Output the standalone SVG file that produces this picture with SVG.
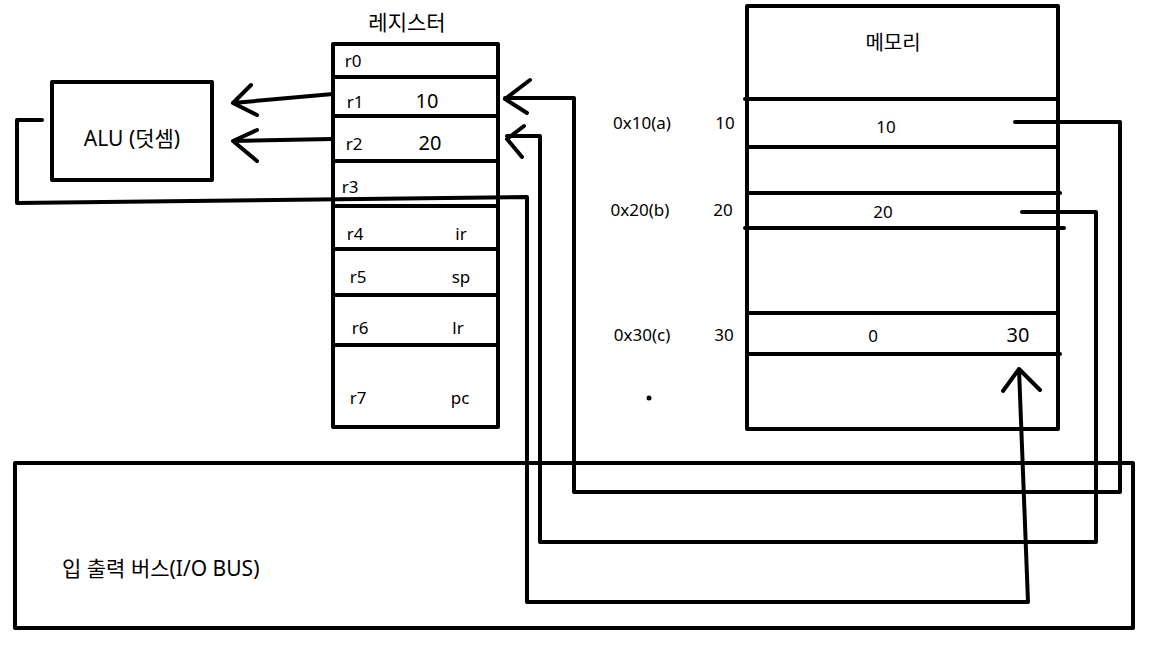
<svg xmlns="http://www.w3.org/2000/svg" width="1151" height="645" viewBox="0 0 1151 645">
<style>
.b{fill:none;stroke:#000;stroke-width:4;stroke-linecap:round;stroke-linejoin:round}
text{font-family:"Noto Sans","Noto Sans CJK KR",sans-serif;fill:#000;text-anchor:middle;dominant-baseline:central}
.s{font-size:17px}
.m{font-size:20px}
</style>
<rect width="1151" height="645" fill="#fff"/>
<g id="bus">
<rect class="b" x="15" y="463" width="1118" height="165"/>
<text x="62" y="568" style="text-anchor:start;font-size:21px">입 출력 버스(I/O BUS)</text>
</g>
<g id="alu">
<rect class="b" x="52" y="82" width="160" height="98"/>
<text x="132" y="138" style="font-size:21px">ALU (덧셈)</text>
</g>
<g id="registers">
<text x="407" y="22" style="font-size:21px">레지스터</text>
<rect class="b" x="333" y="44" width="165" height="383"/>
<path class="b" d="M333 77H498M333 116H498M333 161H498M333 206H498M333 249H498M333 295H498M333 345H498"/>
<text class="s" x="353" y="60">r0</text>
<text class="s" x="355" y="101">r1</text>
<text class="m" x="427" y="100">10</text>
<text class="s" x="354" y="143">r2</text>
<text class="m" x="430" y="142">20</text>
<text class="s" x="350" y="186">r3</text>
<text class="s" x="355" y="233">r4</text>
<text class="s" x="461" y="233">ir</text>
<text class="s" x="358" y="276">r5</text>
<text class="s" x="461" y="276">sp</text>
<text class="s" x="360" y="327">r6</text>
<text class="s" x="458" y="327">lr</text>
<text class="s" x="358" y="397">r7</text>
<text class="s" x="460" y="397">pc</text>
</g>
<g id="memory">
<rect class="b" x="747" y="6" width="311" height="423"/>
<path class="b" d="M745 99H1057M747 147H1058M747 193H1060M745 228H1064M747 313H1058M747 354H1060"/>
<text class="m" x="893" y="42">메모리</text>
<text class="s" x="642" y="122">0x10(a)</text>
<text class="s" x="725" y="122">10</text>
<text class="s" x="886" y="126">10</text>
<text class="s" x="640" y="209">0x20(b)</text>
<text class="s" x="723" y="209">20</text>
<text class="s" x="883" y="211">20</text>
<text class="s" x="642" y="334">0x30(c)</text>
<text class="s" x="724" y="334">30</text>
<text class="s" x="873" y="335">0</text>
<text class="m" x="1018" y="334">30</text>
<circle cx="649" cy="398" r="2.5" fill="#000"/>
</g>
<g id="connectors">
<path class="b" d="M333 94L233 103M251 85L233 103L257 115"/>
<path class="b" d="M333 139L233 141M257 130L233 141L257 161"/>
<path class="b" d="M1015 122H1120V492H574V98H505M530 80L505 99L527 113"/>
<path class="b" d="M1022 212H1096V542H540V136H507M524 126L507 139L522 157"/>
<path class="b" d="M42 120H17V203L527 197V602H1028L1019 369M1003 391L1019 369L1040 390"/>
</g>
</svg>
